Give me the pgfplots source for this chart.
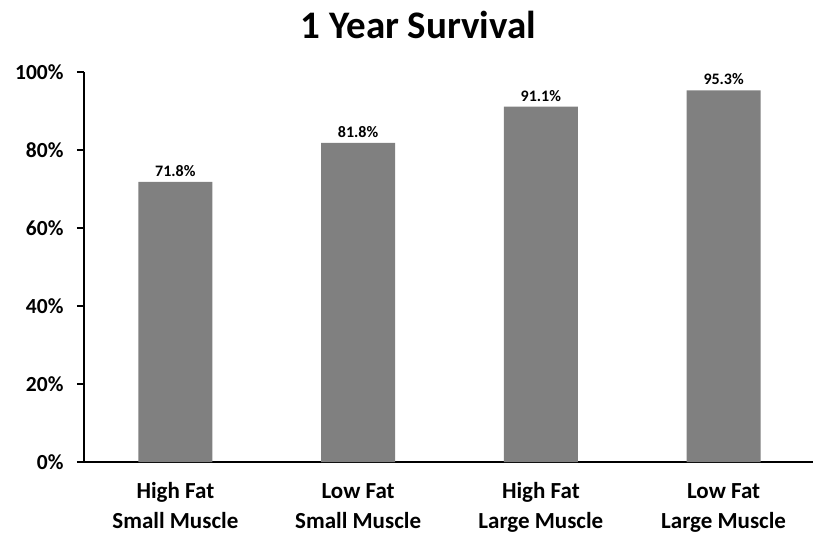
\documentclass[border=0pt]{standalone}
\usepackage{pgfplots}
\pgfplotsset{compat=1.18}
\usepackage{fontspec}
\setmainfont{Carlito}
\definecolor{bargray}{HTML}{808080}
\begin{document}
\begin{tikzpicture}[x=1pt,y=1pt]
\useasboundingbox (0,0) rectangle (813,538);
\begin{axis}[
  at={(84pt,76pt)}, anchor=south west,
  scale only axis,
  width=731pt, height=390pt,
  xmin=-0.5, xmax=3.5,
  ymin=0, ymax=100,
  axis x line*=bottom, axis y line*=left,
  axis line style={line width=1.5pt, black},
  ytick={0,20,40,60,80,100},
  yticklabel={\pgfmathprintnumber{\tick}\%},
  /pgf/number format/assume math mode=true,
  yticklabel style={font=\fontsize{21.5}{24}\selectfont\bfseries, xshift=-10pt},
  xtick={0,1,2,3},
  xticklabels={{High Fat\strut\\Small Muscle\strut},{Low Fat\strut\\Small Muscle\strut},{High Fat\strut\\Large Muscle\strut},{Low Fat\strut\\Large Muscle\strut}},
  xticklabel style={font=\fontsize{23}{30}\selectfont\bfseries, align=center, yshift=-5pt},
  extra x ticks={-0.5,0.5,1.5,2.5},
  extra x tick labels={},
  extra x tick style={major tick length=7pt, tick style={line width=1.5pt, black}, tick align=outside},
  major x tick style={draw=none},
  major y tick style={line width=1.5pt, black},
  tick align=outside,
  major tick length=7pt,
  ybar, bar width=74pt,
  nodes near coords={\pgfmathprintnumber[fixed,fixed zerofill,precision=1]{\pgfplotspointmeta}\%},
  nodes near coords style={font=\fontsize{16}{18}\selectfont\bfseries, yshift=2pt},
  title={1 Year Survival},
  title style={font=\fontsize{39}{42}\selectfont\bfseries, yshift=24pt, xshift=-31pt},
  clip=false,
]
\addplot[fill=bargray, draw=none] coordinates {(0,71.8) (1,81.8) (2,91.1) (3,95.3)};
\end{axis}
\end{tikzpicture}
\end{document}
